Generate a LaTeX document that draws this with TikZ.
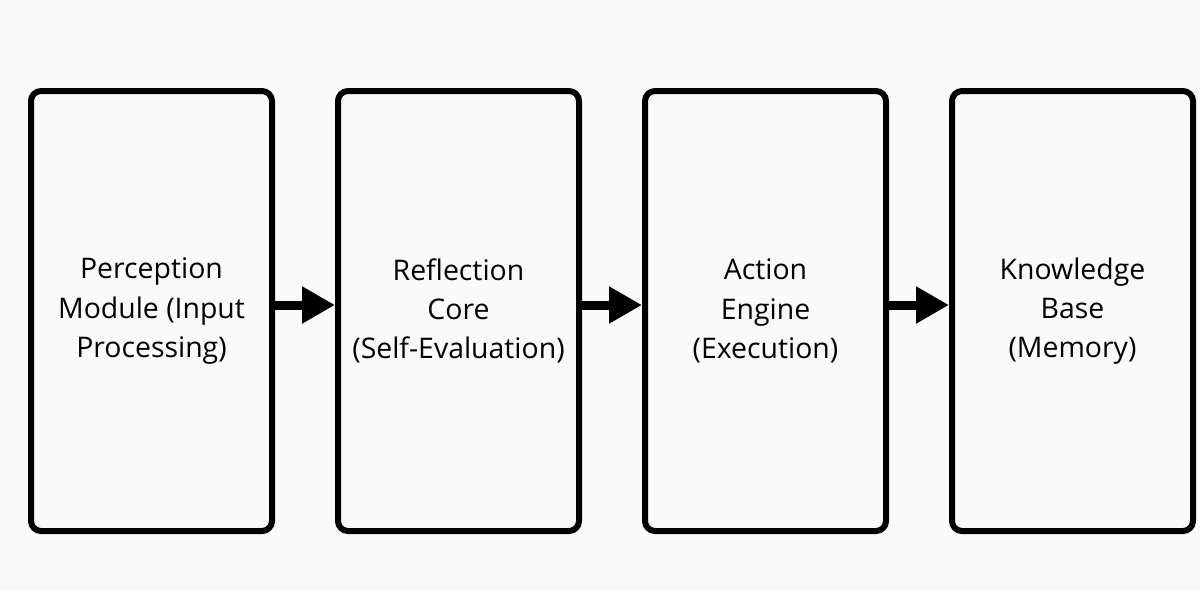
\documentclass[tikz,border=0pt]{standalone}
\usepackage{fontspec}
\setmainfont{Open Sans}
\usetikzlibrary{positioning,arrows.meta}
\definecolor{bgpaper}{RGB}{250,250,250}

\begin{document}
\begin{tikzpicture}[x=0.5pt,y=-0.5pt]
	\tikzset{module/.style={draw,line width=3pt,rounded corners=5pt,minimum width=120.5pt,
		minimum height=220pt,align=center,font=\fontsize{14.2}{19.6}\selectfont,inner sep=0pt},
		flow/.style={line width=4.5pt,-{Triangle[length=16.5pt,width=17.5pt]}}}
	\fill[bgpaper] (0,0) rectangle (1200,591);
	\useasboundingbox (0,0) rectangle (1200,591);
	\node[module] (perc) at (151.5,311) {Perception\\Module (Input\\Processing)};
	\node[module, right=30pt of perc] (refl) {Reflection\\Core\\(Self-Evaluation)};
	\node[module, right=30pt of refl] (act) {Action\\Engine\\(Execution)};
	\node[module, right=30pt of act] (know) {Knowledge\\Base\\(Memory)};
	\path[flow]
		([yshift=3pt]perc.east) edge ([yshift=3pt]refl.west)
		([yshift=3pt]refl.east) edge ([yshift=3pt]act.west)
		([yshift=3pt]act.east) edge ([yshift=3pt]know.west);
\end{tikzpicture}
\end{document}
